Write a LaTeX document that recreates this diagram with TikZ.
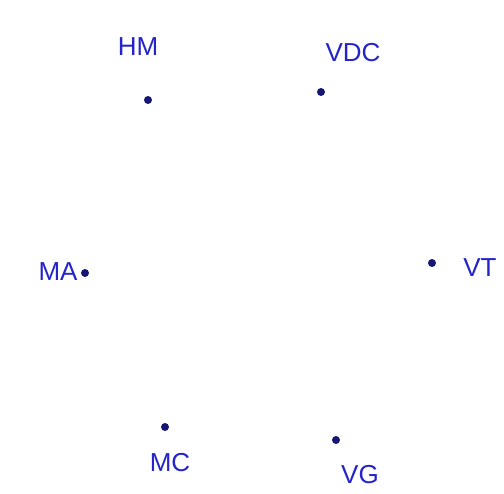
\documentclass[tikz,border=0pt]{standalone}
\usepackage{fontspec}
\setmainfont{Liberation Sans}
\usetikzlibrary{positioning}
\definecolor{labelblue}{RGB}{36,36,200}
\definecolor{dotnavy}{RGB}{22,22,115}

\begin{document}
\begin{tikzpicture}[
  x=1pt,y=1pt,
  site/.style={circle,fill=dotnavy,inner sep=0pt,minimum size=8pt},
  tag/.style={text=labelblue,font=\fontsize{26}{28}\selectfont,inner sep=0pt}
]
  \useasboundingbox (0,0) rectangle (504,494);
  % sites
  \node[site] (hm)  at (148,394) {};
  \node[site] (vdc) at (321,402) {};
  \node[site] (ma)  at (85,221) {};
  \node[site] (vt)  at (432,231) {};
  \node[site] (mc)  at (165,67) {};
  \node[site] (vg)  at (336,54) {};
  % names
  \node[tag] (hmname)  at (138,447) {HM};
  \node[tag] (vdcname) at (353,441) {VDC};
  \node[tag] (maname)  at (58,222) {MA};
  \node[tag] (vtname)  at (480,226) {VT};
  \node[tag] (mcname)  at (170,31) {MC};
  \node[tag] (vgname)  at (360,19) {VG};
\end{tikzpicture}
\end{document}
